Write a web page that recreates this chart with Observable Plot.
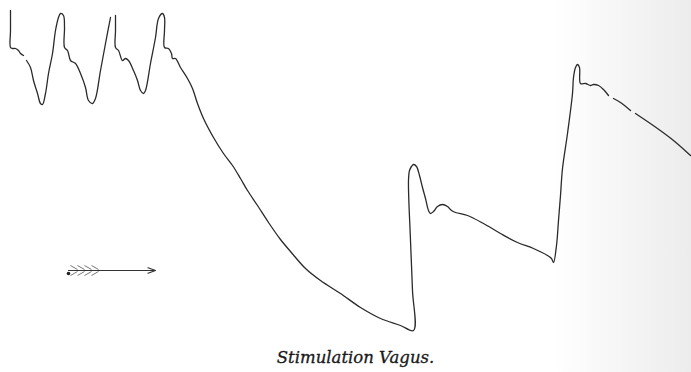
<!DOCTYPE html>
<html>
<head>
<meta charset="utf-8">
<script src="https://cdn.jsdelivr.net/npm/d3@7"></script>
<script src="https://cdn.jsdelivr.net/npm/@observablehq/plot@0.6"></script>
<style>
  html, body { margin: 0; padding: 0; background: #fff; }
  #chart svg { display: block; background: linear-gradient(to right, #ffffff 0%, #ffffff 80%, #ececec 100%); }
</style>
</head>
<body>
<div id="chart"></div>
<script>
// Tracing of the blood-pressure curve (x position, pen height read from the top of the sheet)
const traceX = [10,10,10,12,15,18,20,23,null,
  26,30,33,37,40,42,45,48,52,55,58,60,63,64,64,67,68,70,75,80,85,88,92,95,100,105,110,null,
  115,115,115,118,122,125,128,133,137,140,143,145,150,155,158,162,164,164,164,168,171,172,175,180,187,192,197,203,213,223,232,240,247,257,268,280,290,305,320,340,360,380,400,413,
  412,410,408,409,411,413,416,419,422,425,428,430,433,437,442,447,451,455,467,483,500,517,533,547,551,553,
  556,558,560,562,567,572,573,575,577,579,580,585,590,593,598,603,608,null,
  613,620,630,null,635,657,673,690];
const traceY = [10,30,47,48,48,50,53,55,null,
  60,67,80,93,103,104,93,73,53,30,17,13,15,27,47,50,53,60,63,73,87,100,103,98,70,43,17,null,
  15,30,47,50,60,58,60,70,80,90,93,90,63,37,18,13,17,30,47,48,53,58,58,67,78,88,103,118,137,153,165,178,190,205,222,239,251,268,280,293,307,318,325,330,
  290,240,180,170,166,164,166,175,187,198,210,213,211,206,204,206,210,212,215,223,233,242,248,255,258,262,
  245,220,195,168,133,93,77,67,64,67,83,83,85,84,85,89,95,null,
  98,102,110,null,113,128,140,155];

// Time-marker arrow (feathered) below the tracing
const arrowX = [68, 155];
const arrowY = 270;
const featherX = [70, 77, 84, 91];

const captionText = "Stimulation Vagus.";
const captionX = 355;
const captionY = 357;

const trace = traceX.map((x, i) => ({x, y: traceY[i]}));
const feathers = featherX.flatMap(fx => [
  {x1: fx, y1: arrowY - 5, x2: fx + 7, y2: arrowY - 1},
  {x1: fx, y1: arrowY + 5, x2: fx + 7, y2: arrowY + 1}
]);

const chart = Plot.plot({
  width: 691,
  height: 372,
  margin: 0,
  x: {domain: [0, 691], axis: null},
  y: {domain: [0, 372], reverse: true, axis: null},
  marks: [
    Plot.line(trace, {x: "x", y: "y", stroke: "#2a2a2a", strokeWidth: 1.3, curve: "catmull-rom"}),
    Plot.arrow([{x1: arrowX[0], x2: arrowX[1], y: arrowY}], {x1: "x1", x2: "x2", y1: "y", y2: "y", stroke: "#333", strokeWidth: 1.2, headLength: 10, headAngle: 40}),
    Plot.link(feathers, {x1: "x1", y1: "y1", x2: "x2", y2: "y2", stroke: "#777", strokeWidth: 1}),
    Plot.dot([{x: arrowX[0], y: arrowY + 3}], {x: "x", y: "y", r: 1.8, fill: "#222"}),
    Plot.text([captionText], {x: captionX, y: captionY, text: d => d, fontFamily: "'DejaVu Serif', 'Liberation Serif', serif", fontStyle: "italic", fontSize: 16.5, fill: "#1a1a1a", stroke: "#1a1a1a", strokeWidth: 0.3})
  ]
});
document.getElementById("chart").append(chart);
</script>
</body>
</html>
